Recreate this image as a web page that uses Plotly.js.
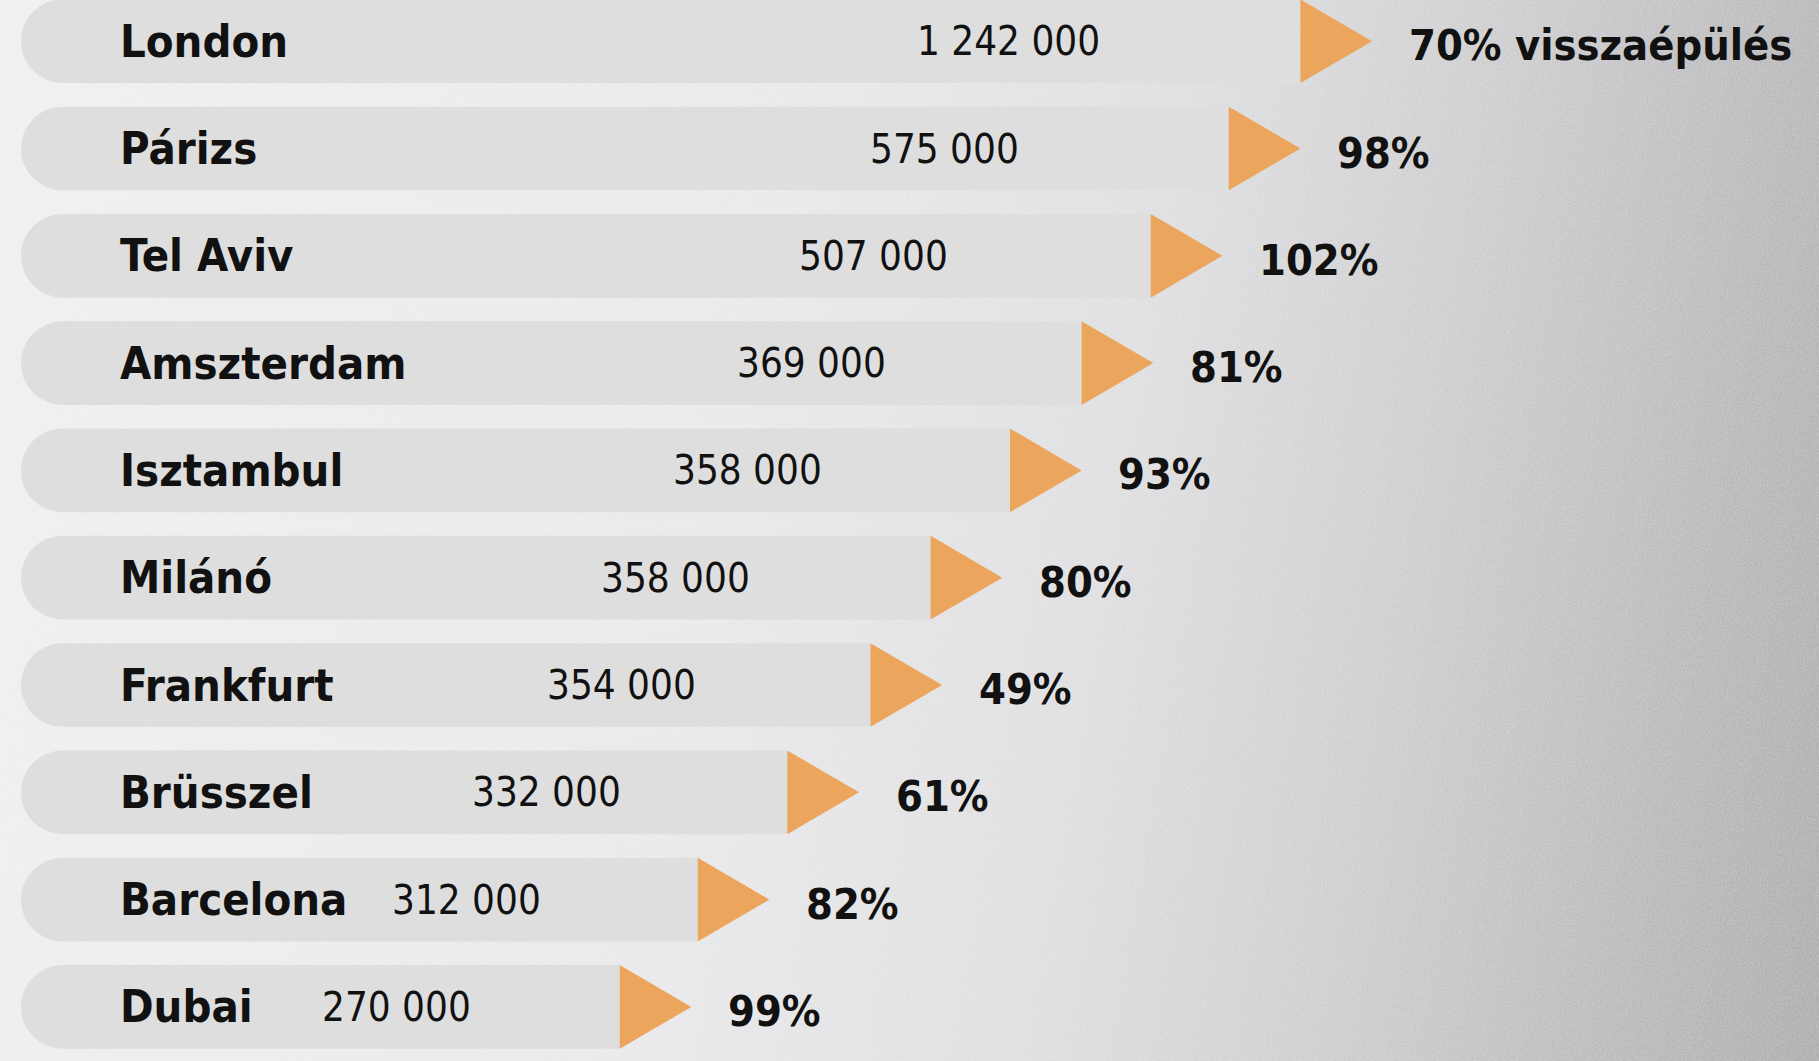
<!DOCTYPE html>
<html>
<head>
<meta charset="utf-8">
<script src="https://cdn.plot.ly/plotly-3.0.1.min.js"></script>
<style>
  html, body { margin: 0; padding: 0; width: 1819px; height: 1061px; overflow: hidden; }
  body {
    background:
      url("data:image/svg+xml;utf8,<svg xmlns='http://www.w3.org/2000/svg' width='400' height='400'><filter id='n'><feTurbulence type='fractalNoise' baseFrequency='0.55' numOctaves='3' seed='4'/><feColorMatrix values='0 0 0 0 1  0 0 0 0 1  0 0 0 0 1  0 0 0 0.35 -0.08'/></filter><rect width='100%' height='100%' filter='url(%23n)'/></svg>"),
      linear-gradient(100deg, #eeeff1 0%, #e9e9eb 40%, #dedee0 60%, #cdcdcf 75%, #b8b8ba 90%, #acacae 100%);
  }
  #chart { width: 1819px; height: 1061px; }
</style>
</head>
<body>
<div id="chart"></div>
<script>
// ---- data ----
const cities = ["London", "Párizs", "Tel Aviv", "Amszterdam", "Isztambul", "Milánó", "Frankfurt", "Brüsszel", "Barcelona", "Dubai"];
const valueLabels = ["1 242 000", "575 000", "507 000", "369 000", "358 000", "358 000", "354 000", "332 000", "312 000", "270 000"];
const percentLabels = ["70% visszaépülés", "98%", "102%", "81%", "93%", "80%", "49%", "61%", "82%", "99%"];
// displayed bar length (London = 100), as drawn in the infographic
const barLength = [100, 94.4, 88.3, 82.9, 77.3, 71.1, 66.4, 59.9, 52.9, 46.8];

// ---- layout / style constants ----
const W = 1819, H = 1061;
const X_RANGE = [-1.633, 140.53];
const Y_RANGE = [9.504, -0.384];
const PX_PER_X = W / (X_RANGE[1] - X_RANGE[0]);
const PX_PER_Y = H / (Y_RANGE[0] - Y_RANGE[1]);
const BAR_COLOR = "#dedede";
const ARROW_COLOR = "#eba55c";
const ARROW_LEN = 5.6;     // x units
const HALF_H = 0.39;       // y units
const CAP_PX = 2 * HALF_H * PX_PER_Y;          // diameter of the rounded end, px
const CAP_R = (CAP_PX / 2) / PX_PER_X;          // radius in x units
const FONT = "'DejaVu Sans Condensed', 'Liberation Sans Narrow', 'DejaVu Sans', sans-serif";
// value label sits inside the bar, a bit before its end
const valueLabelX = L => 0.9 * L - 12.8;

const idx = cities.map((_, i) => i);

const bars = {
  type: "bar",
  orientation: "h",
  y: idx,
  x: barLength.map(v => v - CAP_R),
  base: barLength.map(() => CAP_R),
  width: 2 * HALF_H,
  marker: { color: BAR_COLOR, line: { width: 0 } },
  hoverinfo: "skip",
  showlegend: false
};

const caps = {
  type: "scatter",
  mode: "markers",
  x: barLength.map(() => CAP_R),
  y: idx,
  marker: { symbol: "circle", size: CAP_PX, color: BAR_COLOR, line: { width: 0 } },
  hoverinfo: "skip",
  showlegend: false
};

const tx = [], ty = [];
barLength.forEach((v, i) => {
  tx.push(v, v + ARROW_LEN, v, v, null);
  ty.push(i - HALF_H, i, i + HALF_H, i - HALF_H, null);
});
const arrows = {
  type: "scatter",
  mode: "lines",
  x: tx, y: ty,
  fill: "toself",
  fillcolor: ARROW_COLOR,
  line: { width: 0, color: ARROW_COLOR },
  hoverinfo: "skip",
  showlegend: false
};

const annotations = [];
cities.forEach((c, i) => {
  annotations.push({
    x: 7.6, y: i, xref: "x", yref: "y", text: "<b>" + c + "</b>",
    showarrow: false, xanchor: "left", yanchor: "middle",
    font: { family: FONT, size: 45, color: "#111111" }
  });
  annotations.push({
    x: valueLabelX(barLength[i]), y: i, xref: "x", yref: "y", text: valueLabels[i],
    showarrow: false, xanchor: "center", yanchor: "middle",
    font: { family: FONT, size: 40, color: "#111111" }
  });
  annotations.push({
    x: barLength[i] + ARROW_LEN + 2.7, y: i, xref: "x", yref: "y", text: "<b>" + percentLabels[i] + "</b>",
    showarrow: false, xanchor: "left", yanchor: "middle", yshift: -4,
    font: { family: FONT, size: 43, color: "#111111" }
  });
});

const layout = {
  width: W, height: H,
  margin: { l: 0, r: 0, t: 0, b: 0, pad: 0 },
  paper_bgcolor: "rgba(0,0,0,0)",
  plot_bgcolor: "rgba(0,0,0,0)",
  barmode: "overlay",
  xaxis: { range: X_RANGE, visible: false, fixedrange: true },
  yaxis: { range: Y_RANGE, visible: false, fixedrange: true },
  annotations: annotations,
  showlegend: false
};

Plotly.newPlot("chart", [bars, caps, arrows], layout, { displayModeBar: false, staticPlot: true });
</script>
</body>
</html>
